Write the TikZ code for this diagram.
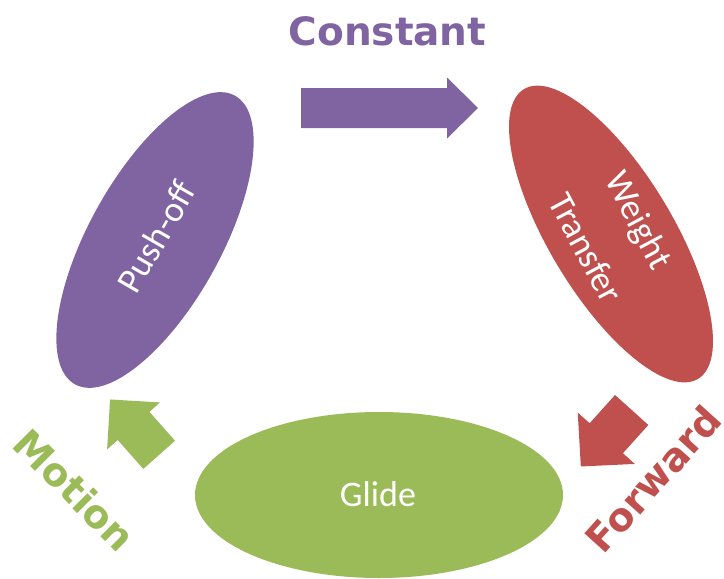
\documentclass[tikz,border=0pt]{standalone}
\usepackage{fontspec}
\setmainfont{Carlito}
\newfontfamily\labelfont{DejaVu Sans}
\usetikzlibrary{shapes.geometric}
\definecolor{cpurple}{HTML}{8064A2}
\definecolor{cred}{HTML}{C0504D}
\definecolor{cgreen}{HTML}{9BBB59}
\tikzset{
  stage/.style={ellipse, draw=none, inner sep=0pt},
  stagetext/.style={text=white, font=\fontsize{36}{60}\selectfont, align=center, inner sep=0pt},
  flowlabel/.style={font=\labelfont\bfseries\fontsize{39}{48}\selectfont, inner sep=0pt},
  % block arrow: length, body half-width, head half-width, head length
  pics/blockarrow/.style n args={4}{code={
    \fill[pic actions] (0,-#2) -- ({#1-#4},-#2) -- ({#1-#4},-#3) -- (#1,0)
      -- ({#1-#4},#3) -- ({#1-#4},#2) -- (0,#2) -- cycle;}}
}
\begin{document}
\begin{tikzpicture}[x=1pt,y=-1pt]
\useasboundingbox (0,0) rectangle (724,579);

% the three stages
\node[stage, fill=cpurple, minimum width=330pt, minimum height=132pt, rotate=61] (pushoff) at (155,240) {};
\node[stage, fill=cred, minimum width=338pt, minimum height=124pt, rotate=-59] (weight) at (611,234) {};
\node[stage, fill=cgreen, minimum width=368pt, minimum height=166pt] (glide) at (379,495) {};

\node[stagetext, rotate=60] (pushofftext) at (156,237) {Push-off};
\node[stagetext, rotate=-62] (weighttext) at (613,234) {Weight\\Transfer};
\node[stagetext] (glidetext) at (378,494) {Glide};

% arrows between the stages
\pic[fill=cpurple] (constarrow) at (301,108) {blockarrow={177}{20}{30.5}{31}};
\pic[fill=cred, rotate=-132] (fwdarrow) at (631.7,410) {blockarrow={76}{22.4}{38.4}{38}};
\pic[fill=cgreen, rotate=131.6] (motarrow) at (159.2,454.8) {blockarrow={74}{21.2}{35.4}{35.4}};

% labels
\node[flowlabel, text=cpurple, anchor=base] (constant) at (387.5,45) {Constant};
\node[flowlabel, text=cred, rotate=48] (forward) at (653,479) {Forward};
\node[flowlabel, text=cgreen, rotate=-45] (motion) at (75,490) {Motion};
\end{tikzpicture}
\end{document}
